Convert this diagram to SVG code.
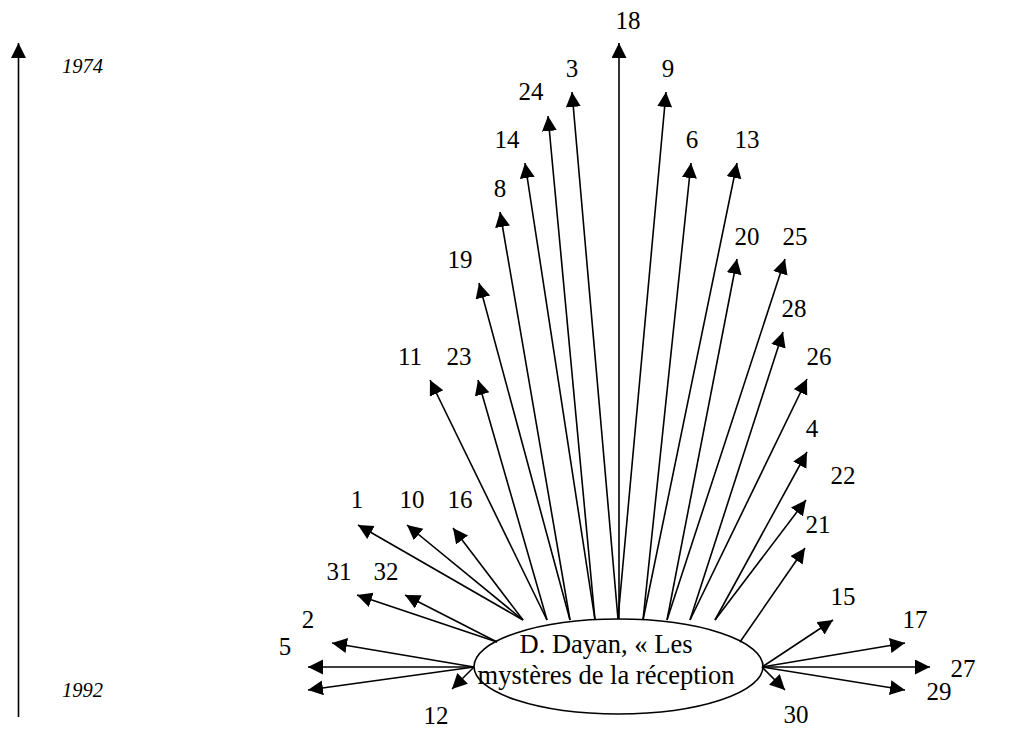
<svg xmlns="http://www.w3.org/2000/svg" width="1022" height="729" viewBox="0 0 1022 729">
<style>
.lbl{font-family:"Liberation Serif","Times New Roman",serif;font-size:25px;fill:#000;text-anchor:middle}
.yr{font-family:"Liberation Serif","Times New Roman",serif;font-size:20.5px;font-style:italic;fill:#000}
.main{font-family:"Liberation Serif","Times New Roman",serif;font-size:26.5px;fill:#000;text-anchor:middle}
.c line{stroke:#000;stroke-width:1.6;fill:none;marker-end:url(#ah)}
</style>
<defs>
<marker id="ah" markerUnits="userSpaceOnUse" markerWidth="16" markerHeight="16" refX="15" refY="7.5" orient="auto">
<path d="M0,0 L15,7.5 L0,15 z" fill="#000"/>
</marker>
</defs>
<rect width="1022" height="729" fill="#fff"/>
<g id="axis">
<line x1="18.5" y1="717" x2="18.5" y2="43" stroke="#000" stroke-width="1.6" marker-end="url(#ah)"/>
<text class="yr" x="62" y="73">1974</text>
<text class="yr" x="62" y="697">1992</text>
</g>
<g id="center">
<ellipse cx="618.5" cy="666.5" rx="144.5" ry="47.5" fill="#fff" stroke="#000" stroke-width="1.6"/>
<text class="main" x="606" y="653">D. Dayan, « Les</text>
<text class="main" x="606" y="684">mystères de la réception</text>
</g>
<g id="connectors" class="c">
<line x1="523" y1="620" x2="358" y2="525"/>
<line x1="523" y1="620" x2="407" y2="525"/>
<line x1="523" y1="620" x2="453" y2="528"/>
<line x1="547" y1="620" x2="430" y2="380"/>
<line x1="547" y1="620" x2="478" y2="380"/>
<line x1="570" y1="620" x2="479" y2="283"/>
<line x1="570" y1="620" x2="500" y2="212"/>
<line x1="595" y1="620" x2="525" y2="163"/>
<line x1="595" y1="620" x2="548" y2="116"/>
<line x1="618" y1="619" x2="572" y2="92"/>
<line x1="619" y1="619" x2="619" y2="43"/>
<line x1="618" y1="619" x2="666" y2="92"/>
<line x1="643" y1="620" x2="691" y2="163"/>
<line x1="643" y1="620" x2="737" y2="163"/>
<line x1="667" y1="620" x2="737" y2="259"/>
<line x1="667" y1="620" x2="785" y2="259"/>
<line x1="690" y1="620" x2="783" y2="332"/>
<line x1="690" y1="620" x2="807" y2="379"/>
<line x1="715" y1="620" x2="807" y2="452"/>
<line x1="715" y1="620" x2="806" y2="500"/>
<line x1="740" y1="642" x2="805" y2="548"/>
<line x1="497" y1="642" x2="357" y2="595"/>
<line x1="497" y1="642" x2="405" y2="595"/>
<line x1="474" y1="667" x2="332" y2="643"/>
<line x1="474" y1="667" x2="308" y2="667"/>
<line x1="474" y1="667" x2="308" y2="690"/>
<line x1="474" y1="667" x2="452" y2="689"/>
<line x1="762" y1="667" x2="833" y2="620"/>
<line x1="762" y1="667" x2="905" y2="643"/>
<line x1="762" y1="667" x2="930" y2="667"/>
<line x1="762" y1="667" x2="905" y2="690"/>
<line x1="762" y1="667" x2="785" y2="690"/>
</g>
<g id="n18"><text class="lbl" x="628" y="29">18</text></g>
<g id="n3"><text class="lbl" x="572" y="77">3</text></g>
<g id="n9"><text class="lbl" x="668" y="77">9</text></g>
<g id="n24"><text class="lbl" x="531" y="100">24</text></g>
<g id="n14"><text class="lbl" x="507" y="148">14</text></g>
<g id="n6"><text class="lbl" x="692" y="148">6</text></g>
<g id="n13"><text class="lbl" x="747" y="148">13</text></g>
<g id="n8"><text class="lbl" x="500" y="197">8</text></g>
<g id="n20"><text class="lbl" x="747" y="245">20</text></g>
<g id="n25"><text class="lbl" x="795" y="245">25</text></g>
<g id="n19"><text class="lbl" x="460" y="268">19</text></g>
<g id="n28"><text class="lbl" x="794" y="317">28</text></g>
<g id="n26"><text class="lbl" x="819" y="365">26</text></g>
<g id="n11"><text class="lbl" x="410" y="365">11</text></g>
<g id="n23"><text class="lbl" x="459" y="365">23</text></g>
<g id="n4"><text class="lbl" x="812" y="437">4</text></g>
<g id="n22"><text class="lbl" x="843" y="484">22</text></g>
<g id="n1"><text class="lbl" x="357" y="508">1</text></g>
<g id="n10"><text class="lbl" x="412" y="508">10</text></g>
<g id="n16"><text class="lbl" x="460" y="508">16</text></g>
<g id="n21"><text class="lbl" x="818" y="533">21</text></g>
<g id="n31"><text class="lbl" x="339" y="580">31</text></g>
<g id="n32"><text class="lbl" x="386" y="580">32</text></g>
<g id="n15"><text class="lbl" x="843" y="605">15</text></g>
<g id="n2"><text class="lbl" x="308" y="628">2</text></g>
<g id="n17"><text class="lbl" x="915" y="628">17</text></g>
<g id="n5"><text class="lbl" x="285" y="655">5</text></g>
<g id="n27"><text class="lbl" x="963" y="677">27</text></g>
<g id="n29"><text class="lbl" x="939" y="700">29</text></g>
<g id="n12"><text class="lbl" x="436" y="724">12</text></g>
<g id="n30"><text class="lbl" x="796" y="723">30</text></g>
</svg>
